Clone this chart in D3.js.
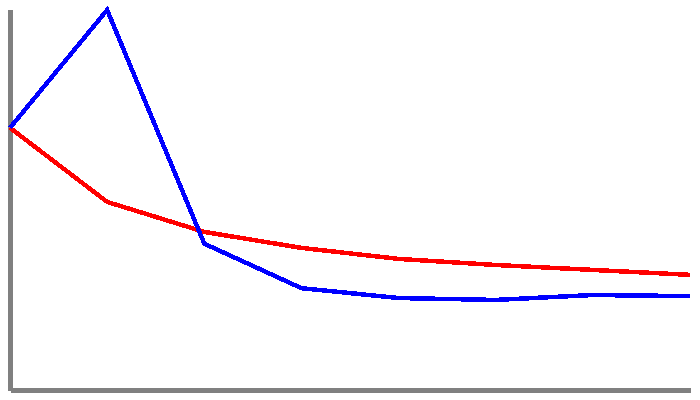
<!DOCTYPE html>
<html>
<head>
<meta charset="utf-8">
<script src="https://cdn.jsdelivr.net/npm/d3@7"></script>
<style>
  body { margin: 0; background: #fff; }
  svg { display: block; }
</style>
</head>
<body>
<div id="chart"></div>
<script>
// data
var steps = [0, 1, 2, 3, 4, 5, 6, 7];
var blueVals = [69, 100, 38.5, 26.8, 24.2, 23.7, 25, 24.7];
var redVals = [69, 49.5, 41.6, 37.4, 34.5, 32.9, 31.6, 30.3];

var width = 700, height = 400;

var svg = d3.select("#chart").append("svg")
    .attr("width", width).attr("height", height);

var x = d3.scaleLinear().domain([0, 7]).range([10, 690]);
var y = d3.scaleLinear().domain([0, 100]).range([390, 10]);

// axes, no ticks or labels, just the grey bars
var xAxis = svg.append("g").attr("transform", "translate(0,390)")
    .call(d3.axisBottom(x).tickValues([]).tickSizeOuter(0));
var yAxis = svg.append("g").attr("transform", "translate(10,0)")
    .call(d3.axisLeft(y).tickValues([]).tickSizeOuter(0));
svg.selectAll(".domain")
    .attr("stroke", "#808080")
    .attr("stroke-width", 5)
    .attr("shape-rendering", "crispEdges");
yAxis.select(".domain").attr("d", "M0," + y(100) + "V" + (y(0) + 1));

var line = d3.line()
    .x(function(d, i) { return x(steps[i]); })
    .y(function(d) { return y(d); });

svg.append("path").datum(redVals)
    .attr("d", line)
    .attr("fill", "none")
    .attr("stroke", "red")
    .attr("stroke-width", 4.5)
    .attr("shape-rendering", "crispEdges");

svg.append("path").datum(blueVals)
    .attr("d", line)
    .attr("fill", "none")
    .attr("stroke", "blue")
    .attr("stroke-width", 4.5)
    .attr("shape-rendering", "crispEdges");
</script>
</body>
</html>
